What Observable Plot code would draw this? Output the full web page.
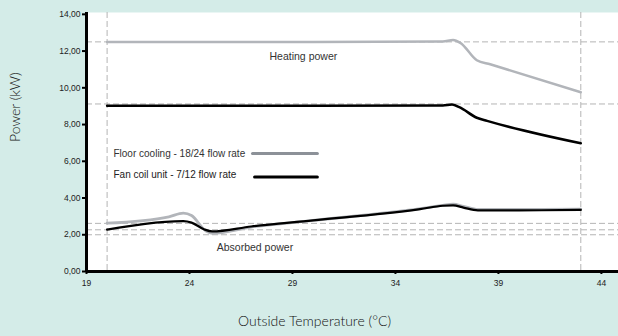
<!DOCTYPE html>
<html>
<head>
<meta charset="utf-8">
<script src="https://cdn.jsdelivr.net/npm/d3@7"></script>
<script src="https://cdn.jsdelivr.net/npm/@observablehq/plot@0.6"></script>
<style>
  html, body { margin: 0; padding: 0; background: #d4ece8; }
  #chart svg { display: block; }
</style>
</head>
<body>
<div id="chart"></div>
<script>
// Outside temperature ticks and power ticks
const xTicks = [19, 24, 29, 34, 39, 44];
const yTicks = [0, 2, 4, 6, 8, 10, 12, 14];

// Reference (dashed) lines
const refPower = [12.5, 9.12, 2.62, 2.27, 2.0];
const refTemp = [20, 43];

// Heating power - Floor cooling 18/24
const floorHeatT = [20, 30, 36.3, 36.8, 37.15, 37.95, 38.6, 43];
const floorHeatP = [12.5, 12.5, 12.52, 12.6, 12.45, 11.5, 11.28, 9.76];
// Heating power - Fan coil unit 7/12
const fanHeatT = [20, 30, 36.3, 36.75, 37.1, 37.95, 38.45, 43];
const fanHeatP = [9.03, 9.03, 9.04, 9.09, 8.95, 8.37, 8.2, 6.98];
// Absorbed power - Floor cooling 18/24
const floorAbsT = [20, 23, 23.7, 24.1, 24.8, 25.1, 27, 30, 35.2, 36.3, 36.8, 37.3, 38, 40, 43];
const floorAbsP = [2.63, 2.98, 3.18, 3.05, 2.2, 2.08, 2.42, 2.78, 3.42, 3.6, 3.66, 3.55, 3.38, 3.38, 3.4];
// Absorbed power - Fan coil unit 7/12
const fanAbsT = [20, 23.7, 24.1, 24.7, 25.1, 27, 30, 35.2, 36.3, 36.8, 37.3, 38, 40, 43];
const fanAbsP = [2.28, 2.74, 2.66, 2.3, 2.18, 2.45, 2.78, 3.4, 3.58, 3.6, 3.48, 3.33, 3.33, 3.35];

const series = (T, P) => T.map((t, i) => ({t, p: P[i]}));
const fmt = d => d.toFixed(2).replace(".", ",");

const GRAY = "#b2b5ba";
const LEGEND_GRAY = "#8c9198";

const chart = Plot.plot({
  width: 618,
  height: 336,
  marginLeft: 86,
  marginRight: 0,
  marginTop: 12,
  marginBottom: 65,
  x: {domain: [19, 44.83]},
  y: {domain: [0, 14.1]},
  style: {background: "#d4ece8", fontFamily: "'Liberation Sans', Arial, sans-serif", color: "#222"},
  marks: [
    Plot.frame({fill: "white", stroke: null}),
    Plot.ruleY(refPower, {stroke: "#b4b4b4", strokeWidth: 1, strokeDasharray: "6,3"}),
    Plot.ruleX(refTemp, {stroke: "#b4b4b4", strokeWidth: 1, strokeDasharray: "6,3"}),
    Plot.line(series(floorHeatT, floorHeatP), {x: "t", y: "p", stroke: GRAY, strokeWidth: 2.5, curve: "monotone-x"}),
    Plot.line(series(fanHeatT, fanHeatP), {x: "t", y: "p", stroke: "black", strokeWidth: 2.5, curve: "monotone-x"}),
    Plot.line(series(floorAbsT, floorAbsP), {x: "t", y: "p", stroke: GRAY, strokeWidth: 2.8, curve: "monotone-x"}),
    Plot.line(series(fanAbsT, fanAbsP), {x: "t", y: "p", stroke: "black", strokeWidth: 2.2, curve: "monotone-x"}),
    Plot.ruleX([19], {stroke: "black", strokeWidth: 3}),
    Plot.ruleY([0], {stroke: "black", strokeWidth: 3}),
    Plot.axisY({ticks: yTicks, tickSize: 4, tickPadding: 2, strokeWidth: 2, stroke: "black", tickFormat: fmt, fontSize: 8.5, label: null}),
    Plot.axisX({ticks: xTicks, tickSize: 3, tickPadding: 5, strokeWidth: 2, stroke: "black", fontSize: 8.5, label: null}),
    // annotations
    Plot.text(["Heating power"], {x: 29.53, y: 11.7, fontSize: 10.5, fill: "#333"}),
    Plot.text(["Absorbed power"], {x: 27.18, y: 1.31, fontSize: 10.5, fill: "#333"}),
    // legend
    Plot.text(["Floor cooling - 18/24 flow rate"], {x: 20.31, y: 6.42, textAnchor: "start", fontSize: 10, fill: "#333"}),
    Plot.text(["Fan coil unit - 7/12 flow rate"], {x: 20.31, y: 5.28, textAnchor: "start", fontSize: 10, fill: "#222", letterSpacing: "-0.3px"}),
    Plot.line([{t: 27.06, p: 6.42}, {t: 30.21, p: 6.42}], {x: "t", y: "p", stroke: LEGEND_GRAY, strokeWidth: 3}),
    Plot.line([{t: 27.16, p: 5.14}, {t: 30.21, p: 5.14}], {x: "t", y: "p", stroke: "black", strokeWidth: 3}),
    // axis titles
    Plot.text(["Power (kW)"], {frameAnchor: "left", dx: -71, rotate: -90, fontSize: 14, fill: "#111", fontWeight: 300, fontFamily: "Lato, sans-serif"}),
    Plot.text(["Outside Temperature (°C)"], {frameAnchor: "bottom", dx: -38, dy: 54, fontSize: 14, fill: "#111", fontWeight: 300, fontFamily: "Lato, sans-serif"})
  ]
});
document.getElementById("chart").append(chart);
</script>
</body>
</html>
